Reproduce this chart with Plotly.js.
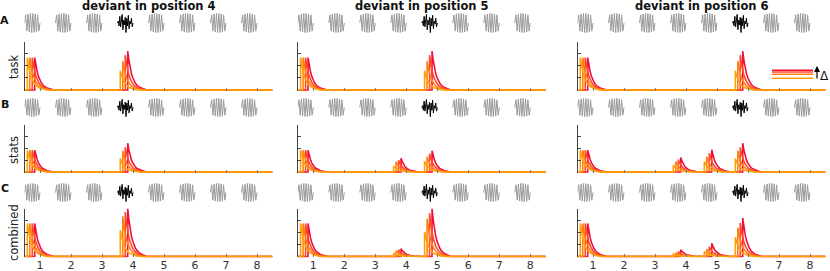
<!DOCTYPE html>
<html><head><meta charset="utf-8">
<script src="https://cdn.plot.ly/plotly-3.0.1.min.js"></script>
<style>body{margin:0;background:#fff}#chart{width:830px;height:271px}</style>
</head><body><div id="chart"></div>
<script>
// ---------- data ----------
const positions = [1,2,3,4,5,6,7,8];
const xTickLabels = ['1','2','3','4','5','6','7','8'];
const deviantPositions = [4,5,6];
const columnTitles = ['deviant in position 4','deviant in position 5','deviant in position 6'];
const rowLabels = ['task','stats','combined'];
const panelLetters = ['A','B','C'];
const deltaNames = ['Δ1','Δ2','Δ3','Δ4'];
// onset time of each Δ trace relative to tone position
const onsetOffsets = [-0.41,-0.33,-0.25,-0.17];
// response shape (time after onset, relative height)
const kernelTime  = [0, 0, 0.04, 0.08, 0.12, 0.16, 0.2,  0.25, 0.3,  0.4,  0.5,  0.62];
const kernelShape = [0, 1, 0.75, 0.56, 0.42, 0.32, 0.24, 0.17, 0.12, 0.06, 0.03, 0];
// peak amplitude per trace (Δ1..Δ4) at each tone position 1..8
const amp_task_dev4 = [
  [2.7,0,0,1.6,0,0,0,0],
  [2.7,0,0,2.4,0,0,0,0],
  [2.7,0,0,2.9,0,0,0,0],
  [2.7,0,0,3.25,0,0,0,0]];
const amp_stats_dev4 = [
  [1.85,0,0,1.15,0,0,0,0],
  [1.85,0,0,1.8,0,0,0,0],
  [1.85,0,0,2.1,0,0,0,0],
  [1.85,0,0,2.45,0,0,0,0]];
const amp_comb_dev4 = [
  [2.75,0,0,2.2,0,0,0,0],
  [2.75,0,0,3.35,0,0,0,0],
  [2.75,0,0,3.7,0,0,0,0],
  [2.75,0,0,4.0,0,0,0,0]];
const amp_task_dev5 = [
  [2.7,0,0,0,1.6,0,0,0],
  [2.7,0,0,0,2.4,0,0,0],
  [2.7,0,0,0,2.9,0,0,0],
  [2.7,0,0,0,3.25,0,0,0]];
const amp_stats_dev5 = [
  [1.85,0,0,0.5,0.9,0,0,0],
  [1.85,0,0,0.87,1.3,0,0,0],
  [1.85,0,0,1.0,1.55,0,0,0],
  [1.85,0,0,1.16,1.8,0,0,0]];
const amp_comb_dev5 = [
  [2.75,0,0,0.28,2.05,0,0,0],
  [2.75,0,0,0.48,3.15,0,0,0],
  [2.75,0,0,0.55,3.6,0,0,0],
  [2.75,0,0,0.65,4.0,0,0,0]];
const amp_task_dev6 = [
  [2.7,0,0,0,0,1.6,0,0],
  [2.7,0,0,0,0,2.4,0,0],
  [2.7,0,0,0,0,2.9,0,0],
  [2.7,0,0,0,0,3.25,0,0]];
const amp_stats_dev6 = [
  [1.85,0,0,0.57,0.9,1.15,0,0],
  [1.85,0,0,0.89,1.3,1.8,0,0],
  [1.85,0,0,1.05,1.6,2.1,0,0],
  [1.85,0,0,1.23,1.9,2.45,0,0]];
const amp_comb_dev6 = [
  [2.75,0,0,0.2,0.4,1.6,0,0],
  [2.75,0,0,0.3,0.6,2.4,0,0],
  [2.75,0,0,0.4,0.8,2.8,0,0],
  [2.75,0,0,0.55,1.1,3.2,0,0]];
// tone glyphs (waveform sketches)
const standardWave = [0,0.85,-0.85,0.95,-0.95,1,-1,1,-1,0.95,-0.95,0.85,-0.85,0];
const deviantWave = [0,0.2,-0.3,0.7,-0.4,0.1,0.9,-0.7,0.3,-0.2,0.6,-1,0.5,-0.3,0.8,-0.6,0.2,-0.1,0.5,-0.4,0];

// ---------- styles / layout ----------
const W = 830, H = 271;
const traceColors = ['#ffa00a','#ff7f12','#ff4a2a','#f0103c'];
const colX = [[24.5,272.5],[297.8,545.8],[577.5,825.5]];
const rowPlotY = [[42,90],[125,172],[208.5,256.5]];
const rowGlyphY = [[13,33],[98,117],[183,202]];
const ampTable = [
  [amp_task_dev4, amp_stats_dev4, amp_comb_dev4],
  [amp_task_dev5, amp_stats_dev5, amp_comb_dev5],
  [amp_task_dev6, amp_stats_dev6, amp_comb_dev6]];

const dx = (a,b) => [a/W, b/W];
const dy = (top,bot) => [1-bot/H, 1-top/H];

const traces = [];
const layout = {
  width: W, height: H, margin:{l:0,r:0,t:0,b:0},
  paper_bgcolor:'#fff', plot_bgcolor:'rgba(0,0,0,0)',
  showlegend:false, font:{family:'DejaVu Sans, sans-serif', color:'#222'},
  annotations:[], shapes:[]
};

function responseTrace(amps, k){
  const xs=[0.5], ys=[0];
  positions.forEach((p,i)=>{
    const a = amps[i];
    if(!a) return;
    const t0 = p + onsetOffsets[k];
    kernelTime.forEach((t,j)=>{ xs.push(t0+t); ys.push(a*kernelShape[j]); });
  });
  xs.push(8.5); ys.push(0);
  return {x:xs, y:ys};
}

for(let c=0;c<3;c++){
  for(let r=0;r<3;r++){
    const i = c*3 + r + 1;
    const g = 9 + c*3 + r + 1;
    // response plot
    layout['xaxis'+i] = {
      domain: dx(colX[c][0], colX[c][1]), anchor:'y'+i, range:[0.5,8.5],
      tickvals: positions, ticktext: xTickLabels, showticklabels: r===2,
      ticks:'inside', ticklen:3, tickcolor:'#777', tickwidth:1,
      showline:false, zeroline:false, showgrid:false,
      tickfont:{size:11, color:'#333'}
    };
    layout['yaxis'+i] = {
      domain: dy(rowPlotY[r][0], rowPlotY[r][1]+0.9), anchor:'x'+i, range:[-0.08,4],
      tickvals:[0,1,2,3,4], showticklabels:false, ticks:'inside', ticklen:3,
      tickcolor:'#444', showline:true, linecolor:'#444', linewidth:1,
      zeroline:false, showgrid:false
    };
    const amps = ampTable[c][r];
    for(let k=3;k>=0;k--){
      const d = responseTrace(amps[k], k);
      traces.push({type:'scatter', mode:'lines', x:d.x, y:d.y, xaxis:'x'+i, yaxis:'y'+i,
        name:deltaNames[k], line:{color:traceColors[k], width:1.6}, hoverinfo:'skip'});
    }
    // glyph row
    layout['xaxis'+g] = {domain: dx(colX[c][0], colX[c][1]), anchor:'y'+g, range:[0.5,8.5], visible:false};
    layout['yaxis'+g] = {domain: dy(rowGlyphY[r][0], rowGlyphY[r][1]), anchor:'x'+g, range:[-1.05,1.05], visible:false};
    positions.forEach(p=>{
      const dev = p===deviantPositions[c];
      const w = dev ? deviantWave : standardWave;
      const xs = w.map((_,j)=> p-0.5 + 0.5*j/(w.length-1));
      traces.push({type:'scatter', mode:'lines', x:xs, y:w, xaxis:'x'+g, yaxis:'y'+g,
        line:{color: dev ? '#000' : '#9a9a9a', width:1}, hoverinfo:'skip'});
    });
  }
  layout.annotations.push({text:'<b>'+columnTitles[c]+'</b>', xref:'paper', yref:'paper',
    x:(colX[c][0]+colX[c][1])/2/W, y:1-6/H, showarrow:false, font:{size:11.5, color:'#111'},
    xanchor:'center', yanchor:'middle'});
}
const rowLabelY = [67,150,233];
const letterY = [20,104,188];
for(let r=0;r<3;r++){
  layout.annotations.push({text:rowLabels[r], xref:'paper', yref:'paper', x:14/W, y:1-rowLabelY[r]/H,
    textangle:-90, showarrow:false, font:{size:11.5, color:'#222'}, xanchor:'center', yanchor:'middle'});
  layout.annotations.push({text:'<b>'+panelLetters[r]+'</b>', xref:'paper', yref:'paper', x:4.5/W, y:1-letterY[r]/H,
    showarrow:false, font:{size:11, color:'#111'}, xanchor:'center', yanchor:'middle'});
}
// Δ key
const keyY = [78.3,74.3,72,70.3];
for(let k=0;k<4;k++){
  layout.shapes.push({type:'line', xref:'paper', yref:'paper', x0:772/W, x1:813/W,
    y0:1-keyY[k]/H, y1:1-keyY[k]/H, line:{color:traceColors[k], width:1.6}});
}
layout.annotations.push({text:'', xref:'paper', yref:'paper', x:817/W, y:1-66/H, ax:0, ay:14,
  showarrow:true, arrowhead:2, arrowsize:1, arrowwidth:1.2, arrowcolor:'#000'});
layout.annotations.push({text:'Δ', xref:'paper', yref:'paper', x:824.5/W, y:1-76/H, showarrow:false,
  font:{size:12, color:'#111'}, xanchor:'center', yanchor:'middle'});

Plotly.newPlot('chart', traces, layout, {staticPlot:true, displayModeBar:false});
</script></body></html>
